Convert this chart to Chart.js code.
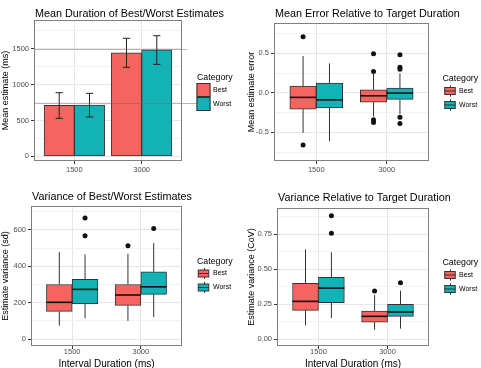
<!DOCTYPE html>
<html>
<head>
<meta charset="utf-8">
<title>Best/Worst estimates</title>
<script src="https://cdn.jsdelivr.net/npm/chart.js@4.4.1/dist/chart.umd.min.js"></script>
<style>
  body { margin: 0; background: #fff; }
  canvas { position: absolute; }
</style>
</head>
<body>
<canvas id="meanChart" width="240" height="184" style="left:0;top:0"></canvas>
<canvas id="errorChart" width="241" height="184" style="left:240px;top:0"></canvas>
<canvas id="sdChart" width="240" height="184" style="left:0;top:184px"></canvas>
<canvas id="covChart" width="241" height="184" style="left:240px;top:184px"></canvas>
<script>
const FONT = "'Liberation Sans', Arial, Helvetica, sans-serif";
const RED = '#F5645E';
const TEAL = '#12B2B6';
const EDGE = '#333333';
const GRID = '#e6e6e6';
const GRID_MINOR = '#f2f2f2';

const categories = ['1500', '3000'];
const groups = ['Best', 'Worst'];

// mean duration (ms) with error bar ends
const meanBest = [712, 1444];
const meanWorst = [716, 1486];
const meanBestCI = [[530, 887], [1240, 1645]];
const meanWorstCI = [[548, 878], [1282, 1681]];
const meanMarks = [1500, 750];
const meanTicks = [0, 500, 1000, 1500];
const meanTickLabels = ['0', '500', '1000', '1500'];

// box stats: [lower whisker, q1, median, q3, upper whisker]
const errBest = [[-0.506, -0.206, -0.058, 0.085, 0.465], [-0.30, -0.118, -0.038, 0.038, 0.255]];
const errWorst = [[-0.611, -0.19, -0.089, 0.123, 0.372], [-0.27, -0.084, -0.004, 0.06, 0.245]];
const errBestOut = [[0.709, -0.662], [0.495, 0.268, -0.34, -0.375]];
const errWorstOut = [[], [0.481, 0.322, 0.298, -0.311, -0.39]];
const errTicks = [-0.5, 0, 0.5];
const errTickLabels = ['-0.5', '0.0', '0.5'];

const sdBest = [[73, 152, 202, 300, 478], [100, 185, 242, 300, 469]];
const sdWorst = [[114, 194, 273, 328, 465], [121, 246, 287, 370, 527]];
const sdBestOut = [[], [513]];
const sdWorstOut = [[665, 568], [608]];
const sdTicks = [0, 200, 400, 600];
const sdTickLabels = ['0', '200', '400', '600'];

const covBest = [[0.098, 0.205, 0.269, 0.398, 0.641], [0.066, 0.121, 0.162, 0.2, 0.314]];
const covWorst = [[0.15, 0.26, 0.364, 0.44, 0.62], [0.074, 0.162, 0.193, 0.248, 0.345]];
const covBestOut = [[], [0.343]];
const covWorstOut = [[0.88, 0.755], [0.402]];
const covTicks = [0, 0.25, 0.5, 0.75];
const covTickLabels = ['0.00', '0.25', '0.50', '0.75'];

function buildTicks(majors, labels, min, max) {
  const step = majors[1] - majors[0];
  const ticks = majors.map((v, i) => ({ value: v, text: labels[i] }));
  for (let v = majors[0] - step / 2; v <= max; v += step) {
    if (v >= min) ticks.push({ value: v, text: '', minor: true });
  }
  return ticks.sort((a, b) => a.value - b.value);
}

function yAxis(min, max, majors, labels, width, title, titlePad) {
  return {
    type: 'linear', min, max,
    afterFit: s => { s.width = width; },
    afterBuildTicks: s => { s.ticks = buildTicks(majors, labels, min, max); },
    ticks: {
      callback: (v, i, t) => t[i].text,
      autoSkip: false, padding: 2, color: '#4d4d4d',
      font: { family: FONT, size: 7.5 }
    },
    grid: {
      color: c => (c.tick && c.tick.minor ? GRID_MINOR : GRID),
      tickLength: 3,
      tickColor: c => (c.tick && c.tick.minor ? 'rgba(0,0,0,0)' : EDGE)
    },
    border: { display: false },
    title: {
      display: true, text: title, color: '#000',
      font: { family: FONT, size: 9 },
      padding: { top: titlePad, bottom: 0 }
    }
  };
}

function xAxis(height, showTitle) {
  return {
    type: 'linear', min: 0.4, max: 2.6, offset: false,
    afterFit: s => { s.height = height; },
    afterBuildTicks: s => { s.ticks = categories.map((c, i) => ({ value: i + 1, text: c })); },
    ticks: {
      callback: (v, i, t) => t[i].text,
      autoSkip: false, maxRotation: 0, minRotation: 0, padding: showTitle ? -1.5 : 1, color: '#4d4d4d',
      font: { family: FONT, size: 7.5 }
    },
    grid: { offset: false, color: GRID, tickLength: 3, tickColor: EDGE },
    border: { display: false },
    title: {
      display: showTitle, text: 'Interval Duration (ms)', color: '#000',
      font: { family: FONT, size: 10, lineHeight: 0.8 },
      padding: { top: 0, bottom: 0 }
    }
  };
}

function drawLegend(ctx, lg) {
  ctx.fillStyle = '#000';
  ctx.font = '8.8px ' + FONT;
  ctx.textBaseline = 'alphabetic';
  ctx.textAlign = 'left';
  ctx.fillText('Category', lg.titleX, lg.titleY);
  const size = 14;
  [RED, TEAL].forEach((col, k) => {
    const top = lg.rowTop + k * size;
    const left = lg.keyX;
    ctx.strokeStyle = EDGE;
    ctx.lineWidth = 1;
    if (lg.kind === 'bar') {
      ctx.fillStyle = col;
      ctx.fillRect(left, top, size, size);
      ctx.strokeRect(left + 0.5, top + 0.5, size - 1, size - 1);
    } else {
      const cx = Math.round(left + size / 2) + 0.5;
      ctx.beginPath();
      ctx.moveTo(cx, top + 1.4); ctx.lineTo(cx, top + size - 1.4);
      ctx.stroke();
      ctx.fillStyle = col;
      ctx.fillRect(left + 1.75, top + 3.5, size - 3.5, size - 7);
      ctx.strokeRect(left + 1.75, top + 3.5, size - 3.5, size - 7);
      ctx.beginPath();
      ctx.moveTo(left + 1.75, top + size / 2); ctx.lineTo(left + size - 1.75, top + size / 2);
      ctx.stroke();
    }
    ctx.fillStyle = '#000';
    ctx.font = '7px ' + FONT;
    ctx.textBaseline = 'middle';
    ctx.fillText(groups[k], lg.textX, top + size / 2);
  });
}

const panelPlugin = {
  id: 'panel',
  afterDatasetsDraw(chart, args, opts) {
    const { ctx, chartArea: a, scales: { y } } = chart;
    ctx.save();
    chart.data.datasets.forEach((ds, i) => {
      const meta = chart.getDatasetMeta(i);
      meta.data.forEach((el, j) => {
        if (ds.stats) {
          const s = ds.stats[j];
          ctx.strokeStyle = EDGE;
          ctx.lineWidth = 1;
          ctx.beginPath();
          ctx.moveTo(el.x, y.getPixelForValue(s[0])); ctx.lineTo(el.x, y.getPixelForValue(s[1]));
          ctx.moveTo(el.x, y.getPixelForValue(s[3])); ctx.lineTo(el.x, y.getPixelForValue(s[4]));
          ctx.stroke();
          ctx.strokeStyle = '#111';
          ctx.lineWidth = 1.6;
          ctx.beginPath();
          const my = y.getPixelForValue(s[2]);
          ctx.moveTo(el.x - el.width / 2, my); ctx.lineTo(el.x + el.width / 2, my);
          ctx.stroke();
        }
        if (ds.ci) {
          const [lo, hi] = ds.ci[j];
          const cap = el.width * 0.12;
          const y0 = y.getPixelForValue(lo), y1 = y.getPixelForValue(hi);
          ctx.strokeStyle = '#222';
          ctx.lineWidth = 1;
          ctx.beginPath();
          ctx.moveTo(el.x, y0); ctx.lineTo(el.x, y1);
          ctx.moveTo(el.x - cap, y0); ctx.lineTo(el.x + cap, y0);
          ctx.moveTo(el.x - cap, y1); ctx.lineTo(el.x + cap, y1);
          ctx.stroke();
        }
      });
    });
    (opts.marks || []).forEach((m, k) => {
      const py = Math.round(y.getPixelForValue(m)) + 0.5;
      ctx.strokeStyle = 'rgba(110,110,110,0.5)';
      ctx.lineWidth = 1;
      ctx.beginPath();
      ctx.moveTo(a.left, py); ctx.lineTo(opts.markEnds[k], py);
      ctx.stroke();
    });
    ctx.strokeStyle = '#808080';
    ctx.lineWidth = 1;
    ctx.strokeRect(Math.round(a.left) + 0.5, Math.round(a.top) + 0.5,
      Math.round(a.right - a.left) - 1, Math.round(a.bottom - a.top) - 1);
    ctx.restore();
  },
  afterDraw(chart, args, opts) {
    const { ctx, chartArea: a } = chart;
    ctx.save();
    ctx.fillStyle = '#000';
    ctx.font = '10.8px ' + FONT;
    ctx.textBaseline = 'alphabetic';
    ctx.textAlign = 'left';
    ctx.fillText(opts.title, a.left + 1, opts.titleY);
    drawLegend(ctx, opts.legend);
    ctx.restore();
  }
};

function baseOptions(lay, x, y, panel) {
  return {
    responsive: false, animation: false, events: [],
    layout: { padding: { left: 0, top: lay.top, right: lay.right, bottom: 0 } },
    plugins: { legend: { display: false }, tooltip: { enabled: false }, panel },
    scales: { x, y }
  };
}

const barDodge = 0.225;
const boxDodge = 0.1875;

new Chart(document.getElementById('meanChart'), {
  type: 'bar',
  data: {
    datasets: [
      { label: groups[0], data: meanBest.map((v, i) => ({ x: i + 1 - barDodge, y: v })), ci: meanBestCI,
        backgroundColor: RED },
      { label: groups[1], data: meanWorst.map((v, i) => ({ x: i + 1 + barDodge, y: v })), ci: meanWorstCI,
        backgroundColor: TEAL }
    ].map(d => Object.assign(d, { borderColor: EDGE, borderWidth: 1, borderSkipped: false,
      grouped: false, barPercentage: 1, categoryPercentage: 1 }))
  },
  options: baseOptions({ top: 20, right: 58 }, xAxis(23, false),
    yAxis(-65, 1900, meanTicks, meanTickLabels, 34, 'Mean estimate (ms)', 0),
    { title: 'Mean Duration of Best/Worst Estimates', titleY: 16.5, marks: meanMarks, markEnds: [187, 197],
      legend: { kind: 'bar', titleX: 197, titleY: 80, keyX: 196.5, rowTop: 83, textX: 213 } }),
  plugins: [panelPlugin]
});

function boxChart(id, best, worst, bestOut, worstOut, lay, y, xHeight, showXTitle, panel) {
  const boxes = [best, worst].map((stats, k) => ({
    type: 'bar', label: groups[k], stats,
    data: stats.map((s, i) => ({ x: i + 1 + (k ? boxDodge : -boxDodge), y: [s[1], s[3]] })),
    backgroundColor: k ? TEAL : RED, borderColor: EDGE, borderWidth: 1, borderSkipped: false,
    grouped: false, barPercentage: 1, categoryPercentage: 1
  }));
  const points = [];
  [bestOut, worstOut].forEach((outs, k) => outs.forEach((vals, i) => vals.forEach(v =>
    points.push({ x: i + 1 + (k ? boxDodge : -boxDodge), y: v }))));
  boxes.push({ type: 'scatter', label: 'outliers', data: points,
    pointRadius: 2.5, pointBackgroundColor: '#111', pointBorderWidth: 0 });
  new Chart(document.getElementById(id), {
    type: 'bar',
    data: { datasets: boxes },
    options: baseOptions(lay, xAxis(xHeight, showXTitle), y, panel),
    plugins: [panelPlugin]
  });
}

boxChart('errorChart', errBest, errWorst, errBestOut, errWorstOut, { top: 23, right: 52 },
  yAxis(-0.863, 0.883, errTicks, errTickLabels, 34, 'Mean estimate error', 6), 23, false,
  { title: 'Mean Error Relative to Target Duration', titleY: 16.5,
    legend: { kind: 'box', titleX: 202.5, titleY: 80.5, keyX: 203, rowTop: 84, textX: 219 } });

boxChart('sdChart', sdBest, sdWorst, sdBestOut, sdWorstOut, { top: 22, right: 58 },
  yAxis(-38, 731, sdTicks, sdTickLabels, 31, 'Estimate variance (sd)', 0), 22, true,
  { title: 'Variance of Best/Worst Estimates', titleY: 16,
    legend: { kind: 'box', titleX: 197, titleY: 79.5, keyX: 196.5, rowTop: 82.5, textX: 213 } });

boxChart('covChart', covBest, covWorst, covBestOut, covWorstOut, { top: 24, right: 52 },
  yAxis(-0.05, 0.936, covTicks, covTickLabels, 37, 'Estimate variance (CoV)', 6), 22, true,
  { title: 'Variance Relative to Target Duration', titleY: 16.5,
    legend: { kind: 'box', titleX: 202.5, titleY: 80.5, keyX: 203, rowTop: 84, textX: 219 } });
</script>
</body>
</html>
